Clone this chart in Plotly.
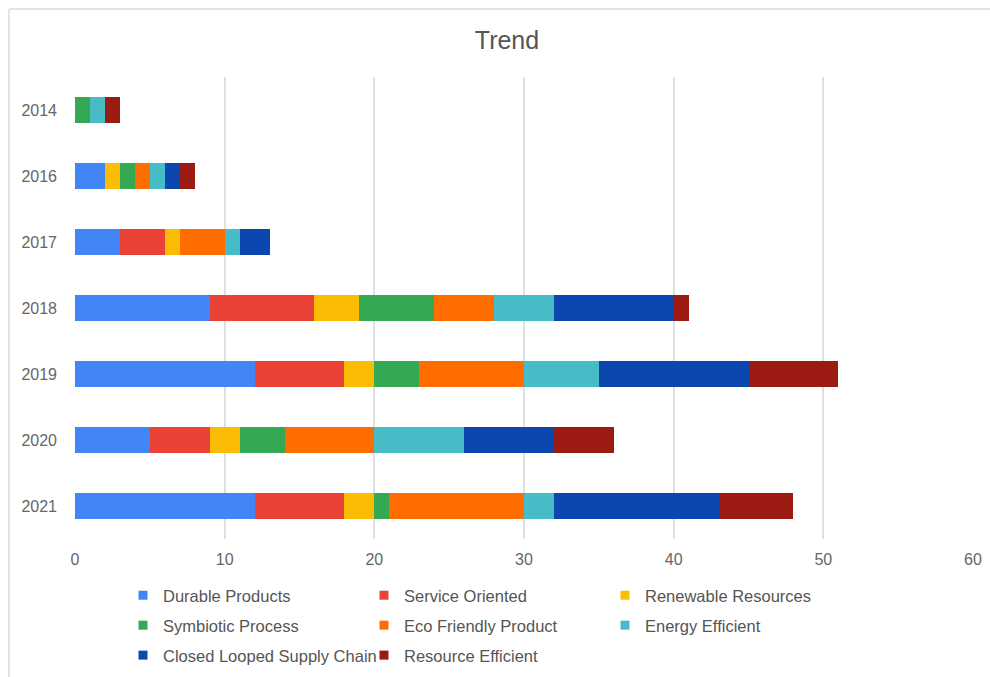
import plotly.graph_objects as go

# Years shown on the category axis (top to bottom)
years = ["2014", "2016", "2017", "2018", "2019", "2020", "2021"]

# Stacked segment values per year
durable_products = [0, 2, 3, 9, 12, 5, 12]
service_oriented = [0, 0, 3, 7, 6, 4, 6]
renewable_resources = [0, 1, 1, 3, 2, 2, 2]
symbiotic_process = [1, 1, 0, 5, 3, 3, 1]
eco_friendly_product = [0, 1, 3, 4, 7, 6, 9]
energy_efficient = [1, 1, 1, 4, 5, 6, 2]
closed_looped_supply_chain = [0, 1, 2, 8, 10, 6, 11]
resource_efficient = [1, 1, 0, 1, 6, 4, 5]

x_ticks = [0, 10, 20, 30, 40, 50, 60]

series = [
    ("Durable Products", durable_products, "#4285F4", "legend"),
    ("Service Oriented", service_oriented, "#EA4335", "legend2"),
    ("Renewable Resources", renewable_resources, "#FBBC04", "legend3"),
    ("Symbiotic Process", symbiotic_process, "#34A853", "legend"),
    ("Eco Friendly Product", eco_friendly_product, "#FF6D01", "legend2"),
    ("Energy Efficient", energy_efficient, "#46BDC6", "legend3"),
    ("Closed Looped Supply Chain", closed_looped_supply_chain, "#0B47AE", "legend"),
    ("Resource Efficient", resource_efficient, "#9B1B12", "legend2"),
]

W, H = 990, 677
ML, MR, MT, MB = 75, 17, 77, 138
PW = W - ML - MR
PH = H - MT - MB


def px_to_paper_x(px):
    return (px - ML) / PW


def px_to_paper_y(py):
    return (H - MB - py) / PH


fig = go.Figure()
for name, vals, color, leg in series:
    fig.add_trace(
        go.Bar(
            y=years,
            x=vals,
            name=name,
            orientation="h",
            marker=dict(color=color, line=dict(width=0)),
            legendgroup=name,
            showlegend=False,
        )
    )

# Legend entries with small square swatches, one column per legend box
for name, vals, color, leg in series:
    fig.add_trace(
        go.Scatter(
            x=[None],
            y=[None],
            mode="markers",
            name=name,
            marker=dict(symbol="square", size=9, color=color),
            legend=leg,
            legendgroup=name,
            hoverinfo="skip",
        )
    )

text_color = "#666666"
legend_common = dict(
    orientation="v",
    xanchor="left",
    yanchor="top",
    font=dict(family="Liberation Sans, Arial, sans-serif", size=16.5, color="#555555"),
    bgcolor="rgba(0,0,0,0)",
    borderwidth=0,
    itemwidth=30,
    tracegroupgap=5.5,
    traceorder="grouped",
)
legend_top = px_to_paper_y(578)

fig.update_layout(
    width=W,
    height=H,
    margin=dict(l=ML, r=MR, t=MT, b=MB, pad=0, autoexpand=False),
    paper_bgcolor="white",
    plot_bgcolor="white",
    barmode="stack",
    bargap=0.6,
    font=dict(family="Liberation Sans, Arial, sans-serif", color=text_color),
    title=dict(
        text="Trend",
        x=507 / W,
        xref="container",
        xanchor="center",
        y=1 - 40 / H,
        yref="container",
        yanchor="middle",
        font=dict(size=25, color="#555555"),
    ),
    xaxis=dict(
        range=[0, 60],
        tickvals=x_ticks,
        showgrid=True,
        gridcolor="#e0e0e0",
        gridwidth=1.5,
        zeroline=False,
        showline=False,
        tickfont=dict(size=16, color=text_color),
        ticklabelstandoff=9,
        fixedrange=True,
    ),
    yaxis=dict(
        type="category",
        categoryorder="array",
        categoryarray=years,
        autorange="reversed",
        showgrid=False,
        zeroline=False,
        showline=False,
        tickfont=dict(size=16, color=text_color),
        ticklabelstandoff=17,
        fixedrange=True,
    ),
    legend=dict(x=px_to_paper_x(123), y=legend_top, **legend_common),
    legend2=dict(x=px_to_paper_x(364), y=legend_top, **legend_common),
    legend3=dict(x=px_to_paper_x(605), y=legend_top, **legend_common),
    shapes=[
        # Light frame around the chart card
        dict(
            type="line",
            xref="paper",
            yref="paper",
            x0=px_to_paper_x(9),
            x1=px_to_paper_x(W + 5),
            y0=px_to_paper_y(9),
            y1=px_to_paper_y(9),
            line=dict(color="#e3e3e3", width=2),
        ),
        dict(
            type="line",
            xref="paper",
            yref="paper",
            x0=px_to_paper_x(9),
            x1=px_to_paper_x(9),
            y0=px_to_paper_y(9),
            y1=px_to_paper_y(H + 5),
            line=dict(color="#e3e3e3", width=2),
        ),
    ],
)

fig.write_html("out.html")
